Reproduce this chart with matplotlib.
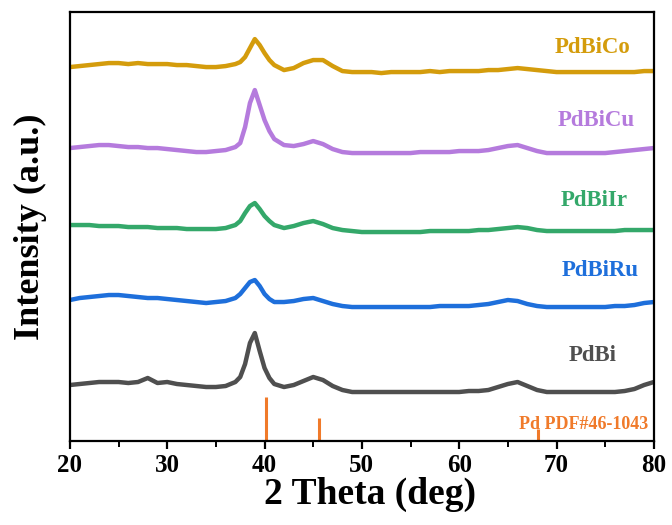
import numpy as np
import matplotlib.pyplot as plt
from matplotlib.ticker import MultipleLocator

plt.rcParams['font.family'] = ['Liberation Serif', 'DejaVu Serif']
plt.rcParams['font.weight'] = 'bold'

# 2 theta grid (deg), finer round the main peak
two_theta = [20, 21, 22, 23, 24, 25, 26, 27, 28, 29, 30, 31, 32, 33, 34, 35, 36, 37,
             37.5, 38, 38.5, 39, 39.5, 40, 40.5, 41, 42, 43, 44, 45, 46, 47, 48, 49, 50,
             51, 52, 53, 54, 55, 56, 57, 58, 59, 60, 61, 62, 63, 64, 65, 66, 67, 68, 69,
             70, 71, 72, 73, 74, 75, 76, 77, 78, 79, 80]

# intensities (a.u., already stacked)
pdbico = [374, 375, 376, 377, 378, 378, 377, 378, 377, 377, 377, 376, 376, 375, 374, 374, 375, 377,
          379, 384, 393, 402, 396, 388, 381, 376, 371, 373, 378, 381, 381, 375, 370, 369, 369,
          369, 368, 369, 369, 369, 369, 370, 369, 370, 370, 370, 370, 371, 371, 372, 373, 372, 371, 370,
          369, 369, 369, 369, 369, 369, 369, 369, 369, 370, 370]
pdbicu = [293, 294, 295, 296, 296, 295, 294, 294, 293, 293, 292, 291, 290, 289, 289, 290, 291, 294,
          298, 314, 338, 351, 336, 321, 310, 302, 296, 295, 297, 300, 297, 292, 289, 288, 288,
          288, 288, 288, 288, 288, 289, 289, 289, 289, 290, 290, 290, 291, 293, 295, 296, 293, 290, 288,
          288, 288, 288, 288, 288, 288, 289, 290, 291, 292, 293]
pdbiir = [216, 216, 216, 215, 215, 215, 214, 214, 214, 213, 213, 213, 212, 212, 212, 212, 213, 216,
          220, 228, 235, 238, 232, 225, 220, 216, 213, 215, 218, 220, 217, 213, 211, 210, 209,
          209, 209, 209, 209, 209, 209, 210, 210, 210, 210, 210, 211, 211, 212, 213, 214, 213, 211, 210,
          210, 210, 210, 210, 210, 210, 210, 211, 211, 211, 211]
pdbiru = [141, 143, 144, 145, 146, 146, 145, 144, 143, 143, 142, 141, 140, 139, 138, 139, 140, 143,
          147, 153, 159, 161, 155, 147, 142, 139, 139, 140, 142, 143, 140, 137, 135, 134, 134,
          134, 134, 134, 134, 134, 134, 134, 135, 135, 135, 135, 136, 137, 139, 141, 140, 137, 135, 134,
          134, 134, 134, 134, 134, 134, 135, 135, 136, 138, 139]
pdbi = [56, 57, 58, 59, 59, 59, 58, 59, 63, 58, 59, 57, 56, 55, 54, 54, 55, 59,
        64, 77, 98, 108, 90, 73, 63, 57, 54, 56, 60, 64, 61, 55, 51, 49, 49,
        49, 49, 49, 49, 49, 49, 49, 49, 49, 49, 50, 50, 51, 54, 57, 59, 55, 51, 49,
        49, 49, 49, 49, 49, 49, 49, 50, 52, 56, 59]

names = ['PdBiCo', 'PdBiCu', 'PdBiIr', 'PdBiRu', 'PdBi']
colors = ['#D49C0C', '#B57BDD', '#34A86A', '#1E6FDB', '#4F4F4F']
label_x = [73.7, 74.1, 73.9, 74.5, 73.7]
label_y = [394, 321, 241, 171, 86]

# Pd PDF#46-1043 reference lines
ref_pos = [40.2, 45.6, 68.1]
ref_int = [44, 23, 12]

fig, ax = plt.subplots(figsize=(6.72, 5.25), dpi=100)
fig.subplots_adjust(left=0.104, right=0.973, bottom=0.16, top=0.977)

series = [pdbico, pdbicu, pdbiir, pdbiru, pdbi]
for s, c in zip(series, colors):
    ax.plot(two_theta, s, color=c, lw=3.2, solid_joinstyle='round')

for name, c, xx, yy in zip(names, colors, label_x, label_y):
    ax.text(xx, yy, name, color=c, fontsize=16.5, fontweight='bold', ha='center', va='center')

ax.vlines(ref_pos, 0, ref_int, color='#F07A2A', lw=2.2)
ax.text(72.8, 17, 'Pd PDF#46-1043', color='#F07A2A', fontsize=13, fontweight='bold',
        ha='center', va='center')

ax.set_xlim(20, 80)
ax.set_ylim(0, 429)
ax.set_yticks([])
ax.xaxis.set_major_locator(MultipleLocator(10))
ax.xaxis.set_minor_locator(MultipleLocator(5))
ax.tick_params(axis='x', which='major', direction='out', length=6, width=1.6, labelsize=18, pad=3)
ax.tick_params(axis='x', which='minor', direction='out', length=4, width=1.4)
for sp in ax.spines.values():
    sp.set_linewidth(1.6)
for lab in ax.get_xticklabels():
    lab.set_fontweight('bold')

ax.set_xlabel('2 Theta (deg)', fontsize=27, fontweight='bold', labelpad=0)
ax.xaxis.set_label_coords(0.514, -0.083)
ax.set_ylabel('Intensity (a.u.)', fontsize=26, fontweight='bold')
ax.yaxis.set_label_coords(-0.040, 0.5)

fig.savefig('out.png', dpi=100)
